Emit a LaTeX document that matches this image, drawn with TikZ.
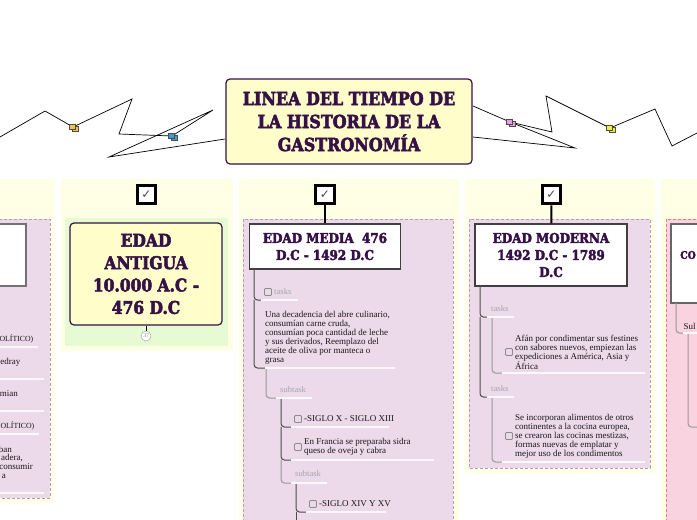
\documentclass[tikz,border=0pt]{standalone}
\usepackage{fontspec}
\usepackage{tikz}
\setmainfont{Liberation Serif}
\newfontfamily\slabfont[FakeStretch=.885,FakeBold=3]{DejaVu Serif Bold}
\newfontfamily\tickfont{DejaVu Sans}
\definecolor{inkpurple}{HTML}{351147}
\definecolor{bandyellow}{HTML}{FFFFE5}
\definecolor{panelmauve}{HTML}{ECD9EA}
\definecolor{paneledge}{HTML}{B79BBF}
\definecolor{panelgreen}{HTML}{E6FBD3}
\definecolor{panelpink}{HTML}{F9D3DF}
\definecolor{boxyellow}{HTML}{FFFDC9}
\definecolor{tagA}{HTML}{F2C14E}
\definecolor{tagB}{HTML}{3F9CCB}
\definecolor{tagC}{HTML}{E6A0DC}
\definecolor{tagD}{HTML}{EEEE44}
\tikzset{
	band/.style={fill=bandyellow,draw=none},
	panel/.style={fill=panelmauve,draw=paneledge,line width=.9pt,dash pattern=on 3pt off 2pt},
	titlebox/.style={draw=inkpurple,fill=boxyellow,line width=1.2pt,rounded corners=4pt,inner sep=0pt,align=center,text=inkpurple},
	agebox/.style={draw=black!75,fill=white,line width=1.1pt,inner sep=0pt,align=center,text=inkpurple},
	tickbox/.style={draw=black,fill=white,line width=3.4pt,minimum size=18.5pt,inner sep=0pt,font=\tickfont\fontsize{12}{12}\selectfont,text=black!70},
	task/.style={draw=black!45,fill=panelmauve,rounded corners=1pt,line width=.8pt,minimum size=7pt,inner sep=0pt},
	body/.style={inner sep=0pt,anchor=west,align=left,text=black!90,font=\fontsize{9}{9}\selectfont},
	pale/.style={inner sep=0pt,anchor=west,text=black!35,font=\fontsize{8.6}{9}\selectfont},
	rule/.style={draw=white!85!panelmauve,line width=1.2pt},
	spine/.style={draw=black!70,line width=1pt,rounded corners=3.5pt},
	subspine/.style={draw=black!40,line width=1pt,rounded corners=3.5pt},
	trail/.style={draw=black,line width=.7pt,line join=miter},
	tag/.style={draw=black!70,line width=.5pt,minimum width=6pt,minimum height=5pt,inner sep=0pt}
}
\begin{document}
\begin{tikzpicture}[x=1pt,y=-1pt]
	\clip (0,0) rectangle (697,520);
	\fill[white] (0,0) rectangle (697,520);
	% bands and panels
	\foreach \xa/\ya/\xb/\yb in {-9/179/54/503,61/179/233/351,239/179/459/529,465/179/655/473,661/179/706/529}
		\fill[band] (\xa,\ya) rectangle (\xb,\yb);
	\draw[panel] (-9,219) rectangle (50,498);
	\fill[panelgreen] (65,218) rectangle (228,346);
	\draw[panel] (243,219) rectangle (453,529);
	\draw[panel] (469,219) rectangle (650,468);
	\draw[panel,fill=panelpink,draw=red!45!panelpink] (666,219) rectangle (706,529);
	% root
	\node[titlebox,minimum width=246pt,minimum height=85pt,font=\slabfont\fontsize{18}{23}\selectfont] (root) at (349,121.5) {LINEA DEL TIEMPO DE\\LA HISTORIA DE LA\\GASTRONOMÍA};
	% icons on the connectors
	\coordinate (lefttop) at (225,139);
	\coordinate (righttop) at (473,106);
	\coordinate (rightlow) at (473,137);
	\coordinate (leftedge) at (0,137);
	\coordinate (rightedge) at (697,133);
	\foreach \name/\x/\y/\col in {amber/73/127/tagA,azure/172/136/tagB,orchid/510/122/tagC,lemon/610/128/tagD}
		\coordinate (\name) at (\x,\y);
	\draw[trail] (leftedge) -- (45,111) -- (amber) -- (132,99) -- (119,134) -- (azure);
	\draw[trail] (azure) -- (213,110) -- (109,157) -- (lefttop);
	\draw[trail] (righttop) -- (orchid) -- (552,132) -- (546,96) -- (lemon) -- (655,109) -- (672,146) -- (rightedge);
	\draw[trail] (orchid) -- (575,148) -- (rightlow);
	\foreach \name/\x/\y/\col in {amber/73/127/tagA,azure/172/136/tagB,orchid/510/122/tagC,lemon/610/128/tagD} {
		\node[tag,fill=\col] (\name-b) at (\x+2,\y+2) {};
		\node[tag,fill=\col] (\name-a) at (\x-0.5,\y-0.5) {};
	}
	% ticks
	\foreach \name/\x in {tickb/146.5,tickc/325,tickd/551.5}
		\node[tickbox] (\name) at (\x,194.5) {✓};
	% antigua
	\node[titlebox,minimum width=152pt,minimum height=102pt,font=\slabfont\fontsize{17.5}{22.4}\selectfont] (antigua) at (146,274) {EDAD\\ANTIGUA\\10.000 A.C -\\476 D.C};
	\node[circle,draw=black!35,fill=white,line width=.5pt,minimum size=10pt,inner sep=0pt,text=black!50,font=\fontsize{5.5}{5.5}\selectfont] (count) at (146,336) {37};
	\draw[black,line width=.8pt] (antigua) -- (count);
	% cut-off column
	\node[agebox,draw=black!55,minimum width=40pt,minimum height=62pt] (oldbox) at (6,255) {};
	\foreach \i/\t/\x/\y in {1/OLÍTICO)/33.5/339,2/OLÍTICO)/34.5/426}
		\node[body,anchor=east,font=\fontsize{7.8}{9}\selectfont] (oldhead-\i) at (\x,\y) {\t};
	\foreach \i/\t/\x/\y in {1/edray/20.5/362,2/mian/18/394,3/ban/12/449,4/{adera,}/23/458,5/consumir/33/467,6/a/6/476}
		\node[body,anchor=east] (old-\i) at (\x,\y) {\t};
	\foreach \i/\y/\xb in {1/347/38,2/379/44,3/411/44,4/434/39,5/493/44} {
		\coordinate (oldrule-\i) at (-2,\y);
		\draw[rule] (oldrule-\i) -- (\xb,\y);
	}
	% media
	\node[agebox,minimum width=151.5pt,minimum height=45pt,font=\slabfont\fontsize{13.5}{17}\selectfont] (media) at (325,246.5) {EDAD MEDIA~~476\\D.C - 1492 D.C};
	\draw[black,line width=2pt] (tickc) -- (media);
	\coordinate (ma) at (261,300);
	\coordinate (mb) at (265,368);
	\coordinate (mc) at (276,398);
	\coordinate (md) at (291,427);
	\coordinate (me) at (291,460);
	\coordinate (mf) at (291,483);
	\coordinate (mg) at (306,512);
	\draw[spine] (254,269) |- (ma);
	\draw[spine] (254,300) |- (mb);
	\draw[subspine] (266,368) |- (mc);
	\draw[spine] (281,398) |- (md);
	\draw[spine] (281,427) |- (me);
	\draw[subspine] (281,460) |- (mf);
	\draw[spine] (296,483) |- (mg);
	\draw[spine] (296,512) -- (296,525);
	\foreach \c/\w in {ma/37,mb/130,mc/36,md/98,me/143,mf/36,mg/80}
		\draw[rule] (\c) -- ++(\w,0);
	\node[task] (ta) at (268,292) {};
	\node[pale] (tatext) at (274,292) {tasks};
	\node[body] (maintext) at (265,337.5) {Una decadencia del abre culinario,\\consumían carne cruda,\\consumían poca cantidad de leche\\y sus derivados, Reemplazo del\\aceite de oliva por manteca o\\grasa};
	\node[pale] (sub1) at (280,390) {subtask};
	\node[task] (tb) at (298,419) {};
	\node[body] (tbtext) at (304,419) {-SIGLO X - SIGLO XIII};
	\node[task] (tc) at (298,447) {};
	\node[body] (tctext) at (304,446.5) {En Francia se preparaba sidra\\queso de oveja y cabra};
	\node[pale] (sub2) at (295,474) {subtask};
	\node[task] (td) at (313,504) {};
	\node[body] (tdtext) at (319,504) {-SIGLO XIV Y XV};
	% moderna
	\node[agebox,minimum width=152pt,minimum height=62pt,font=\slabfont\fontsize{13.5}{17}\selectfont] (moderna) at (551,255) {EDAD MODERNA\\1492 D.C - 1789\\D.C};
	\draw[black,line width=2pt] (tickd) -- (moderna);
	\coordinate (na) at (487,317);
	\coordinate (nb) at (502,373);
	\coordinate (nc) at (487,397);
	\coordinate (nd) at (502,462);
	\draw[spine] (480,286) |- (na);
	\draw[spine] (480,317) |- (nc);
	\draw[subspine] (492,317) |- (nb);
	\draw[subspine] (492,397) |- (nd);
	\foreach \c/\w in {na/27,nb/143,nc/27,nd/143}
		\draw[rule] (\c) -- ++(\w,0);
	\node[pale] (task1) at (491,309) {tasks};
	\node[pale] (task2) at (491,389) {tasks};
	\node[task] (te) at (509,352) {};
	\node[body] (tetext) at (515,352.5) {Afán por condimentar sus festines\\con  sabores nuevos, empiezan las\\expediciones a América, Asia y\\África};
	\node[task] (tf) at (509,436) {};
	\node[body] (tftext) at (515,436) {Se incorporan alimentos de otros\\continentes a la cocina europea,\\se crearon las cocinas mestizas,\\formas nuevas de emplatar y\\mejor uso de los condimentos};
	% cut-off column on the right
	\node[agebox,draw=black!60,minimum width=50pt,minimum height=79pt] (lastbox) at (696,263.5) {};
	\node[inner sep=0pt,anchor=east,text=inkpurple,font=\slabfont\fontsize{10.5}{17}\selectfont] (lasttext) at (696,255) {CO};
	\coordinate (pa) at (683,333);
	\coordinate (pb) at (697,427);
	\draw[subspine] (676,303) |- (pa);
	\draw[subspine] (688,333) |- (pb);
	\draw[rule] (pa) -- (700,333);
	\node[body] (lastsub) at (683.5,326) {Sul};
\end{tikzpicture}
\end{document}
